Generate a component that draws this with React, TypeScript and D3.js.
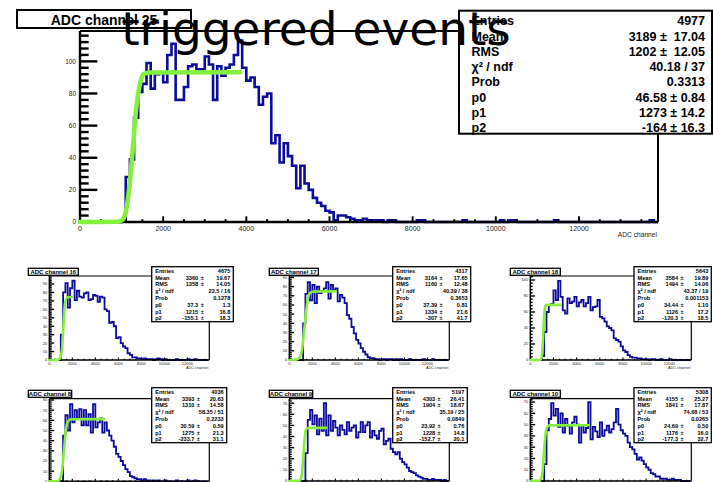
import React from "react";
import * as d3 from "d3";

// ADC spectra, counts per bin read off the canvas
// channel 25: 100 ADC wide bins starting at 0
const ch25Counts = [
  0, 0, 0, 0, 0, 0, 0, 0, 0, 0,
  1, 28, 39, 65, 81, 86, 99, 83, 92, 93,
  87, 104, 111, 76, 76, 84, 97, 98, 95, 95,
  103, 98, 76, 97, 91, 96, 98, 104, 113, 96,
  88, 90, 84, 73, 78, 80, 49, 54, 37, 49,
  41, 35, 21, 35, 24, 20, 15, 12, 10, 7,
  6, 1, 4, 4, 3, 2, 1, 1, 2, 1,
  1, 1, 1, 0, 1, 1, 0, 0, 0, 0,
  0, 1, 1, 0, 0, 0, 0, 0, 0, 0,
  0, 0, 1, 0, 0, 0, 0, 0, 0, 0,
  0, 1, 0, 1, 1, 0, 0, 0, 0, 0,
  0, 0, 0, 0, 1, 0, 0, 0, 0, 0,
  0, 0, 0, 0, 0, 0, 0, 0, 0, 0,
  0, 0, 0, 0, 0, 0, 0, 1, 0,
];
// small pads: 200 ADC wide bins
const ch16Counts = [
  0, 0, 0, 0, 0, 30, 80, 91, 62, 85,
  94, 71, 82, 75, 74, 79, 80, 71, 72, 77,
  76, 69, 75, 74, 60, 58, 44, 45, 40, 26,
  27, 20, 16, 14, 8, 6, 3, 3, 2, 2,
  1, 2, 1, 1, 1, 0, 1, 2, 1, 0,
  1, 0, 0, 0, 0, 1, 0, 0, 0, 0,
  1, 0, 0, 1, 0, 0, 0, 0, 0,
];
const ch17Counts = [
  0, 0, 0, 0, 0, 0, 40, 72, 85, 65,
  82, 62, 80, 73, 75, 78, 85, 67, 82, 76,
  78, 64, 71, 68, 62, 49, 45, 36, 29, 22,
  18, 13, 9, 6, 3, 2, 2, 1, 1, 0,
  1, 1, 0, 1, 1, 0, 1, 0, 1, 0,
  0, 0, 1, 0, 0, 0, 0, 0, 1, 0,
  0, 0, 1, 0, 0, 0, 0, 0, 0,
];
const ch18Counts = [
  0, 0, 0, 0, 0, 5, 35, 60, 69, 70,
  87, 75, 99, 79, 62, 58, 77, 71, 73, 79,
  67, 72, 75, 67, 71, 79, 62, 66, 67, 75,
  54, 52, 48, 42, 40, 37, 27, 25, 23, 17,
  12, 10, 6, 4, 3, 3, 2, 2, 1, 1,
  1, 0, 1, 1, 0, 0, 1, 0, 0, 0,
  1, 0, 0, 0, 0, 0, 0, 0, 0,
];
const ch8Counts = [
  0, 0, 0, 0, 0, 0, 45, 65, 50, 76,
  58, 70, 62, 71, 55, 70, 55, 66, 48, 76,
  53, 58, 62, 48, 58, 50, 45, 40, 34, 27,
  24, 20, 16, 12, 9, 5, 4, 3, 2, 2,
  1, 2, 1, 1, 0, 1, 0, 1, 0, 0,
  1, 0, 0, 0, 0, 1, 0, 0, 0, 0,
  1, 0, 0, 1, 0, 0, 0, 0, 0,
];
const ch9Counts = [
  0, 0, 0, 0, 0, 0, 0, 25, 55, 64,
  51, 59, 42, 56, 45, 70, 41, 59, 45, 54,
  48, 41, 50, 46, 42, 53, 45, 48, 50, 39,
  44, 53, 44, 50, 53, 39, 45, 41, 38, 45,
  47, 33, 36, 38, 29, 26, 24, 26, 20, 17,
  15, 12, 9, 8, 7, 5, 4, 3, 2, 2,
  1, 1, 2, 1, 1, 1, 0, 1, 0,
];
const ch10Counts = [
  0, 0, 0, 0, 0, 0, 15, 45, 55, 69,
  58, 64, 48, 60, 43, 55, 49, 42, 52, 57,
  50, 34, 49, 43, 47, 70, 37, 48, 44, 39,
  52, 40, 45, 49, 43, 46, 52, 64, 50, 45,
  42, 40, 34, 30, 28, 24, 19, 21, 18, 15,
  12, 10, 7, 6, 4, 4, 2, 2, 2, 1,
  1, 2, 1, 1, 1, 0, 0, 0, 0,
];

// fitted turn-on curves, [ADC, counts] points
const ch25Fit = [[0, 0], [900, 0.2], [1000, 0.9], [1100, 6], [1200, 25], [1273, 46.6], [1350, 70], [1450, 87], [1550, 92.4], [1700, 93.1], [3850, 93.2]];
const ch16Fit = [[0, 0], [800, 0.3], [950, 3], [1100, 12], [1215, 37.3], [1330, 63], [1450, 72], [1600, 74.4], [1950, 74.6]];
const ch17Fit = [[0, 0], [600, 0.2], [900, 3], [1100, 11], [1334, 37.4], [1550, 62], [1800, 73], [2100, 74.7], [4050, 74.8]];
const ch18Fit = [[0, 0], [850, 0.2], [950, 2], [1050, 13], [1126, 34.4], [1200, 56], [1300, 67], [1450, 68.9], [2600, 68.9]];
const ch8Fit = [[0, 0], [700, 0.1], [900, 2], [1100, 10], [1275, 30.6], [1450, 51], [1650, 59.5], [1900, 61.1], [4750, 61.2]];
const ch9Fit = [[0, 0], [850, 0.2], [1000, 1.5], [1100, 6.5], [1228, 23.9], [1350, 40], [1450, 46], [1600, 47.7], [3200, 47.8]];
const ch10Fit = [[0, 0], [750, 0.1], [900, 1.5], [1050, 7.5], [1176, 24.7], [1300, 40], [1450, 47.5], [1650, 49.3], [5050, 49.4]];

// stat box rows
const statLabels = ["Entries", "Mean", "RMS", "\u03c7\u00b2 / ndf", "Prob", "p0", "p1", "p2"];
const ch25Stats = ["4977", "3189 \u00b1  17.04", "1202 \u00b1  12.05", "40.18 / 37", "0.3313", "46.58 \u00b1 0.84", "1273 \u00b1 14.2", "-164 \u00b1 16.3"];
const ch16Stats = ["4675", "3360 \u00b1 19.67", "1358 \u00b1 14.05", "22.5 / 16", "0.1278", "37.3 \u00b1 1.3", "1215 \u00b1 16.8", "-155.1 \u00b1 18.3"];
const ch17Stats = ["4317", "3164 \u00b1 17.65", "1160 \u00b1 12.48", "40.39 / 38", "0.3653", "37.39 \u00b1 0.81", "1334 \u00b1 21.6", "-307 \u00b1 41.7"];
const ch18Stats = ["5643", "3584 \u00b1 19.89", "1494 \u00b1 14.06", "43.37 / 19", "0.001153", "34.44 \u00b1 1.10", "1126 \u00b1 17.2", "-120.3 \u00b1 18.5"];
const ch8Stats = ["4036", "3393 \u00b1 20.63", "1310 \u00b1 14.58", "58.35 / 51", "0.2233", "30.59 \u00b1 0.59", "1275 \u00b1 21.3", "-233.7 \u00b1 31.1"];
const ch9Stats = ["5197", "4303 \u00b1 26.41", "1904 \u00b1 18.67", "35.19 / 25", "0.0849", "23.92 \u00b1 0.76", "1228 \u00b1 14.8", "-152.7 \u00b1 20.1"];
const ch10Stats = ["5308", "4155 \u00b1 25.27", "1841 \u00b1 17.87", "74.68 / 53", "0.0265", "24.69 \u00b1 0.50", "1176 \u00b1 16.0", "-177.3 \u00b1 32.7"];

const xMajorTicks = [0, 2000, 4000, 6000, 8000, 10000, 12000];
const X_MAX = 13900;

const FONT = "'Liberation Sans', Arial, Helvetica, sans-serif";
const BLUE = "#0c0c9c";
const GREEN = "#84f03c";

type Box = { x: number; y: number; w: number; h: number };
type PanelProps = {
  title: string;
  counts: number[];
  binW: number;
  fit: number[][];
  stats: string[];
  yMax: number;
  yStep: number;
  frame: { l: number; r: number; t: number; b: number };
  titleBox: Box;
  statsBox: Box;
  big?: boolean;
};

const bigStyle = { xFont: 7, yFont: 6.5, titleFont: 14, statFont: 12.5, statStep: 15.3, statFirst: 14.5, histW: 2.6, fitW: 4.6, axisW: 2.4, frameW: 2, boxW: 2 };
const smallStyle = { xFont: 4, yFont: 4, titleFont: 6, statFont: 5.6, statStep: 6.8, statFirst: 6, histW: 1.8, fitW: 2.6, axisW: 1.4, frameW: 1.2, boxW: 1.3 };

function Panel(p: PanelProps) {
  const s = p.big ? bigStyle : smallStyle;
  const { l, r, t, b } = p.frame;
  const x = d3.scaleLinear().domain([0, X_MAX]).range([l, r]);
  const y = d3.scaleLinear().domain([0, p.yMax]).range([b, t]);

  const pts: [number, number][] = [[0, 0]];
  p.counts.forEach((c, i) => {
    pts.push([i * p.binW, c]);
    pts.push([(i + 1) * p.binW, c]);
  });
  pts.push([p.counts.length * p.binW, 0]);
  const hist = d3.line<[number, number]>().x((d) => x(d[0])).y((d) => y(d[1]))(pts) || "";
  const fit = d3.line<number[]>().x((d) => x(d[0])).y((d) => y(d[1])).curve(d3.curveMonotoneX)(p.fit) || "";

  const yMajor = d3.range(0, p.yMax + 1e-6, p.yStep);
  const yMinor = d3.range(0, p.yMax + 1e-6, p.yStep / 5);
  const xMinor = d3.range(0, X_MAX, 500);
  const yTick = 0.03 * (r - l);
  const xTick = 0.03 * (b - t);

  const sb = p.statsBox;
  return (
    <g fontFamily={FONT}>
      {/* frame top and right */}
      <line x1={l} x2={r} y1={t} y2={t} stroke="#000" strokeWidth={s.frameW} />
      <line x1={r} x2={r} y1={t} y2={b} stroke="#000" strokeWidth={s.frameW} />
      <path d={hist} fill="none" stroke={BLUE} strokeWidth={s.histW} strokeLinejoin="miter" />
      {/* axes */}
      <line x1={l} x2={r} y1={b} y2={b} stroke="#000" strokeWidth={s.axisW} />
      <line x1={l} x2={l} y1={t} y2={b} stroke="#000" strokeWidth={s.axisW} />
      {yMinor.map((v, i) => (
        <line key={"ym" + i} x1={l} x2={l + (i % 5 === 0 ? yTick : yTick / 2)} y1={y(v)} y2={y(v)} stroke="#000" strokeWidth={s.axisW} />
      ))}
      {xMinor.map((v, i) => (
        <line key={"xm" + i} x1={x(v)} x2={x(v)} y1={b} y2={b - (v % 2000 === 0 ? xTick : xTick / 2)} stroke="#000" strokeWidth={s.axisW * 0.8} />
      ))}
      {yMajor.map((v) => (
        <text key={"yl" + v} x={l - (p.big ? 4 : 2)} y={y(v)} dy="0.35em" textAnchor="end" fontSize={s.yFont} fill="#222">
          {v}
        </text>
      ))}
      {xMajorTicks.map((v) => (
        <text key={"xl" + v} x={x(v)} y={b + s.xFont * 1.3} textAnchor="middle" fontSize={s.xFont} fill="#222">
          {v}
        </text>
      ))}
      <text x={r - 1} y={b + s.xFont * 2.15} textAnchor="end" fontSize={s.xFont * 0.95} fill="#222">
        ADC channel
      </text>
      <path d={fit} fill="none" stroke={GREEN} strokeWidth={s.fitW} strokeLinecap="round" />
      {/* stats box */}
      <rect x={sb.x} y={sb.y} width={sb.w} height={sb.h} fill="#fff" stroke="#000" strokeWidth={s.boxW} />
      {statLabels.map((lab, i) => {
        const ty = sb.y + s.statFirst + i * s.statStep;
        const val = p.stats[i];
        const parts = val.split("\u00b1");
        return (
          <g key={lab} fontWeight="bold" fontSize={s.statFont}>
            <text x={sb.x + (p.big ? 12.5 : 3.5)} y={ty}>{lab}</text>
            {p.big || parts.length < 2 ? (
              <text x={sb.x + sb.w - (p.big ? 7 : 3)} y={ty} textAnchor="end" style={{ whiteSpace: "pre" }}>
                {val}
              </text>
            ) : (
              <>
                <text x={sb.x + sb.w * 0.57} y={ty} textAnchor="end">{parts[0].trim()}</text>
                <text x={sb.x + sb.w * 0.62} y={ty} textAnchor="middle">{"\u00b1"}</text>
                <text x={sb.x + sb.w - 3} y={ty} textAnchor="end">{parts[1].trim()}</text>
              </>
            )}
          </g>
        );
      })}
      {/* title box */}
      <rect x={p.titleBox.x} y={p.titleBox.y} width={p.titleBox.w} height={p.titleBox.h} fill="#fff" stroke="#000" strokeWidth={s.boxW} />
      <text
        x={p.titleBox.x + p.titleBox.w / 2}
        y={p.titleBox.y + p.titleBox.h * 0.82}
        textAnchor="middle"
        fontWeight="bold"
        fontSize={s.titleFont}
      >
        {p.title}
      </text>
    </g>
  );
}

export default function App() {
  return (
    <svg width={713} height={482} style={{ position: "absolute", left: 0, top: 0, background: "#fff", display: "block" }}>
      <rect width={713} height={482} fill="#fff" />
      <Panel
        big
        title="ADC channel 25"
        counts={ch25Counts}
        binW={100}
        fit={ch25Fit}
        stats={ch25Stats}
        yMax={118.9}
        yStep={20}
        frame={{ l: 80, r: 658, t: 31, b: 222 }}
        titleBox={{ x: 17, y: 10, w: 174, h: 18 }}
        statsBox={{ x: 459, y: 10.7, w: 253, h: 123 }}
      />
      <Panel title="ADC channel 16" counts={ch16Counts} binW={200} fit={ch16Fit} stats={ch16Stats} yMax={99.5} yStep={10}
        frame={{ l: 49.3, r: 209.3, t: 276, b: 360 }} titleBox={{ x: 28.3, y: 268.3, w: 50, h: 7 }} statsBox={{ x: 151.7, y: 266.7, w: 81.6, h: 55 }} />
      <Panel title="ADC channel 17" counts={ch17Counts} binW={200} fit={ch17Fit} stats={ch17Stats} yMax={91.6} yStep={10}
        frame={{ l: 289.3, r: 449.3, t: 276, b: 360 }} titleBox={{ x: 269.3, y: 268.3, w: 49, h: 7 }} statsBox={{ x: 392.7, y: 266.7, w: 78, h: 55 }} />
      <Panel title="ADC channel 18" counts={ch18Counts} binW={200} fit={ch18Fit} stats={ch18Stats} yMax={105} yStep={20}
        frame={{ l: 530.3, r: 691.3, t: 276, b: 360 }} titleBox={{ x: 510.3, y: 268.3, w: 50, h: 7 }} statsBox={{ x: 634, y: 266.7, w: 77.3, h: 55 }} />
      <Panel title="ADC channel 8" counts={ch8Counts} binW={200} fit={ch8Fit} stats={ch8Stats} yMax={81.3} yStep={10}
        frame={{ l: 49.3, r: 209.3, t: 398.7, b: 481.3 }} titleBox={{ x: 28.3, y: 390.3, w: 43.4, h: 7 }} statsBox={{ x: 151.7, y: 387.7, w: 75, h: 55 }} />
      <Panel title="ADC channel 9" counts={ch9Counts} binW={200} fit={ch9Fit} stats={ch9Stats} yMax={74} yStep={10}
        frame={{ l: 289.3, r: 449.3, t: 398.7, b: 481 }} titleBox={{ x: 269.3, y: 390.3, w: 43.4, h: 7 }} statsBox={{ x: 392.7, y: 387.7, w: 74.6, h: 55 }} />
      <Panel title="ADC channel 10" counts={ch10Counts} binW={200} fit={ch10Fit} stats={ch10Stats} yMax={73} yStep={10}
        frame={{ l: 530.3, r: 691.3, t: 398.7, b: 481 }} titleBox={{ x: 510.3, y: 390.3, w: 50, h: 7 }} statsBox={{ x: 634, y: 387.7, w: 77.3, h: 55 }} />
      <text x={316} y={45} textAnchor="middle" fontFamily="'DejaVu Sans', sans-serif" fontSize={47} fill="#000">
        triggered events
      </text>
    </svg>
  );
}
